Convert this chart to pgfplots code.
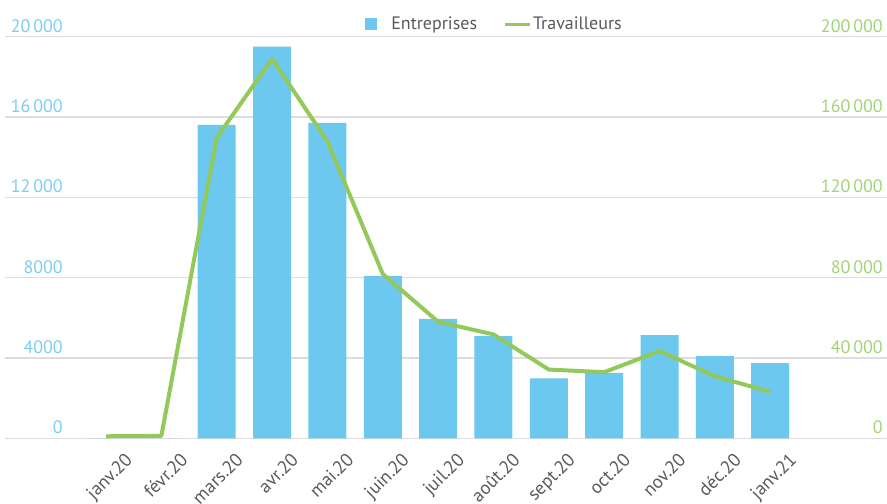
\documentclass[border=0pt]{standalone}
\usepackage{pgfplots}
\pgfplotsset{compat=1.18}
\usepackage{fontspec}
\setmainfont{PT Sans}
\definecolor{barblue}{HTML}{6CC8EF}
\definecolor{lineg}{HTML}{92C95A}
\definecolor{lblblue}{HTML}{7CCDF1}
\definecolor{lblgreen}{HTML}{A2D37A}
\definecolor{txtgray}{HTML}{595959}
\definecolor{gridg}{HTML}{DDDDDD}
\begin{document}
\begin{tikzpicture}
\pgfplotsset{
  common/.style={
    scale only axis, width=882pt, height=401.8pt,
    xmin=-1.825, xmax=14.11,
    axis line style={draw=none}, tick style={draw=none},
    major tick length=0pt, scaled y ticks=false,
  }
}
\begin{axis}[common,
  ymin=0, ymax=20000,
  ytick={0,4000,8000,12000,16000,20000},
  yticklabels={0,4000,8000,12\,000,16\,000,20\,000},
  ymajorgrids, grid style={gridg, line width=1.3pt},
  yticklabel style={font=\fontsize{18}{20}\selectfont, text=lblblue, inner sep=0pt, anchor=south east, xshift=58pt, yshift=4pt},
  xtick={0,...,12},
  xticklabels={janv.20,févr.20,mars.20,avr.20,mai.20,juin.20,juil.20,août.20,sept.20,oct.20,nov.20,déc.20,janv.21},
  xticklabel style={font=\fontsize{18.5}{20}\selectfont, text=txtgray, inner sep=0pt, anchor=north east, xshift=18pt, yshift=-13pt, rotate=45},
  ybar, bar width=38pt,
]
\addplot[fill=barblue, draw=none] coordinates {
(0,0) (1,0) (2,15600) (3,19500) (4,15700) (5,8080) (6,5940) (7,5090) (8,2980) (9,3250) (10,5140) (11,4090) (12,3740)};
\end{axis}
\begin{axis}[common,
  ymin=0, ymax=200000,
  axis y line*=right, axis x line=none,
  ytick={0,40000,80000,120000,160000,200000},
  yticklabels={0,40\,000,80\,000,120\,000,160\,000,200\,000},
  yticklabel style={font=\fontsize{18}{20}\selectfont, text=lblgreen, inner sep=0pt, anchor=south east, xshift=-4pt, yshift=4pt},
  xtick=\empty,
  legend style={at={(0.555,1.031)}, anchor=center, draw=none, fill=none,
    legend columns=2, font=\fontsize{18}{20}\selectfont, text=txtgray,
    /tikz/every even column/.append style={column sep=24pt},
    nodes={inner sep=2pt}},
  legend cell align=left,
]
\addlegendimage{legend image code/.code={\path[fill=barblue, draw=none] (0pt,-6pt) rectangle (12pt,6pt); \path[draw=none, fill=none] (0pt,0pt) -- (24pt,0pt);}}
\addlegendentry{Entreprises}
\addplot[lineg, line width=4pt, line join=round,
  legend image code/.code={\draw[lineg, line width=3pt] (0pt,0pt) -- (25pt,0pt);}] coordinates {
(0,1000) (1,1200) (2,149600) (3,188900) (4,147800) (5,81800) (6,58000) (7,51700) (8,34200) (9,32900) (10,43400) (11,30900) (12,23100)};
\addlegendentry{Travailleurs}
\end{axis}
\pgfresetboundingbox
\path[use as bounding box] ([xshift=-5pt,yshift=-65.7pt]current axis.south west) rectangle ([yshift=36.5pt]current axis.north east);
\end{tikzpicture}
\end{document}
